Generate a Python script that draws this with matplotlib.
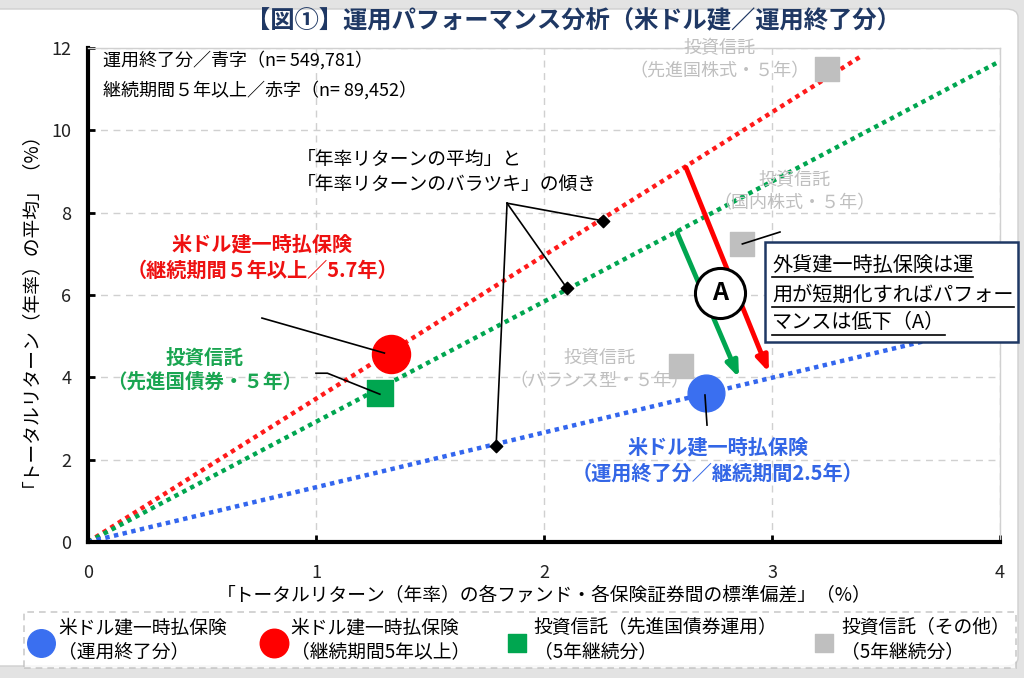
import numpy as np
import matplotlib
matplotlib.use('Agg')
import matplotlib.pyplot as plt
from matplotlib.patches import FancyBboxPatch, Rectangle
from matplotlib.lines import Line2D

plt.rcParams['font.family'] = ['Noto Sans CJK JP', 'DejaVu Sans']

# データ
x_blue, y_blue = 2.71, 3.62      # 米ドル建一時払保険（運用終了分）
x_red, y_red = 1.33, 4.56        # 米ドル建一時払保険（継続期間5年以上）
x_green, y_green = 1.28, 3.62    # 投資信託（先進国債券）
gray_x = [3.24, 2.87, 2.60]      # 投資信託（その他）
gray_y = [11.48, 7.23, 4.27]
gray_names = ['投資信託\n（先進国株式・５年）', '投資信託\n（国内株式・５年）', '投資信託\n（バランス型・５年）']

slopes = [3.48, 2.92, 1.33]       # 赤, 緑, 青
slope_xmax = [3.40, 4.0, 4.0]
line_colors = ['#ff1a1a', '#00a650', '#3366ee']
diamond_x = [2.26, 2.10, 1.79]
diamond_y = [7.80, 6.17, 2.33]

c_red = '#ff0000'
c_blue = '#3a6ff0'
c_green = '#00a650'
c_gray = '#bfbfbf'
navy = '#1f3864'

fig = plt.figure(figsize=(10.24, 6.78), dpi=100, facecolor='#e3e3e3')
W, H = 1024, 678
def fx(px): return px / W
def fy(py): return 1 - py / H

# 白い背景枠
fig.patches.append(FancyBboxPatch((fx(-20), fy(666)), fx(1038), (666 - 9) / H,
                                  boxstyle='round,pad=0,rounding_size=0.012',
                                  transform=fig.transFigure, facecolor='white',
                                  edgecolor='#cfcfcf', lw=1, zorder=-10))

ax = fig.add_axes([fx(88), fy(542), fx(1000 - 88), (542 - 48) / H])
ax.set_xlim(0, 4)
ax.set_ylim(0, 12)
ax.set_xticks([0, 1, 2, 3, 4])
ax.set_yticks([0, 2, 4, 6, 8, 10, 12])
ax.grid(True, ls=(0, (5, 4)), color='#d0d0d0', lw=1)
ax.set_axisbelow(True)
for s in ['left', 'bottom']:
    ax.spines[s].set_linewidth(3)
    ax.spines[s].set_color('black')
for s in ['top', 'right']:
    ax.spines[s].set_linewidth(1)
    ax.spines[s].set_color('#d0d0d0')
ax.tick_params(direction='in', length=5, width=2, labelsize=13, colors='black', pad=12)
ax.tick_params(axis='x', pad=16)
for lab in ax.get_xticklabels() + ax.get_yticklabels():
    lab.set_color('#222222')

# 傾き線
for k, xm, c in zip(slopes, slope_xmax, line_colors):
    xs = np.array([0, xm])
    ax.plot(xs, k * xs, ls=(0, (1, 1)), lw=3.2, color=c, zorder=2)

# 傾き説明
ax.text(0.917, 8.99, '「年率リターンの平均」と\n「年率リターンのバラツキ」の傾き', fontsize=13.5,
        ha='left', va='center', linespacing=1.3, zorder=5)
for dx, dy in zip(diamond_x, diamond_y):
    ax.plot([1.838, dx], [8.23, dy], color='black', lw=1.2, zorder=3)
ax.scatter(diamond_x, diamond_y, marker='D', s=40, color='black', zorder=4)

# 矢印
ax.annotate('', xy=(2.991, 4.06), xytext=(2.618, 9.16),
            arrowprops=dict(arrowstyle='-|>,head_length=0.9,head_width=0.35', color=c_red, lw=3.5), zorder=4)
ax.annotate('', xy=(2.86, 3.93), xytext=(2.579, 7.58),
            arrowprops=dict(arrowstyle='-|>,head_length=0.9,head_width=0.35', color=c_green, lw=3.5), zorder=4)
ax.scatter([2.772], [6.05], s=1300, facecolor='white', edgecolor='black', lw=2.2, zorder=6)
ax.text(2.772, 6.05, 'A', fontsize=18, fontweight='bold', ha='center', va='center', zorder=7)

# その他の投資信託
ax.scatter(gray_x, gray_y, marker='s', s=300, color=c_gray, zorder=5, label='投資信託（その他）\n（5年継続分）')
gray_pos = [(2.77, 11.71), (3.10, 8.50), (2.245, 4.18)]
for (tx, ty), name in zip(gray_pos, gray_names):
    ax.text(tx, ty, name, color=c_gray, fontsize=13, ha='center', va='center', linespacing=1.35, zorder=5)
ax.plot([2.87, 3.035], [7.24, 7.53], color='black', lw=1.2, zorder=6)

# 主要ポイント
ax.scatter([x_blue], [y_blue], s=700, color=c_blue, zorder=6, label='米ドル建一時払保険\n（運用終了分）')
ax.scatter([x_red], [y_red], s=750, color=c_red, zorder=6, label='米ドル建一時払保険\n（継続期間5年以上）')
ax.scatter([x_green], [y_green], marker='s', s=330, color=c_green, zorder=6, label='投資信託（先進国債券運用）\n（5年継続分）')

ax.plot([0.763, 1.30], [5.44, 4.59], color='black', lw=1.2, zorder=7)
ax.plot([1.0, 1.05, 1.28], [4.10, 4.10, 3.59], color='black', lw=1.2, zorder=7)
ax.plot([2.706, 2.715], [3.57, 2.84], color='black', lw=1.2, zorder=7)

ax.text(0.763, 6.92, '米ドル建一時払保険\n（継続期間５年以上／5.7年）', color='#ee1111', fontsize=14.5,
        fontweight='bold', ha='center', va='center', linespacing=1.3, zorder=5)
ax.text(0.513, 4.18, '投資信託\n（先進国債券・５年）', color='#1aa551', fontsize=14,
        fontweight='bold', ha='center', va='center', linespacing=1.3, zorder=5)
ax.text(2.763, 1.99, '米ドル建一時払保険\n（運用終了分／継続期間2.5年）', color='#3366e6', fontsize=14.5,
        fontweight='bold', ha='center', va='center', linespacing=1.3, zorder=5)

ax.text(0.066, 11.71, '運用終了分／青字（n= 549,781）', fontsize=13, ha='left', va='center')
ax.text(0.066, 10.98, '継続期間５年以上／赤字（n= 89,452）', fontsize=13, ha='left', va='center')

# 軸ラベル
ax.set_xlabel('「トータルリターン（年率）の各ファンド・各保険証券間の標準偏差」（%）', fontsize=13.5, labelpad=2)
fig.text(fx(20), fy(300), '「トータルリターン（年率）の平均」（%）', fontsize=13.5, rotation=90,
         ha='center', va='center')

# タイトル
fig.text(fx(573), fy(21), '【図①】運用パフォーマンス分析（米ドル建／運用終了分）', fontsize=17.5,
         fontweight='bold', color=navy, ha='center', va='center')

# 説明ボックス（下線付き）
fig.patches.append(Rectangle((fx(765), fy(342)), fx(1018 - 765), (342 - 242) / H,
                             transform=fig.transFigure, facecolor='white', edgecolor=navy, lw=1.8, zorder=20))
box_lines = ['外貨建一時払保険は運', '用が短期化すればパフォー', 'マンスは低下（A）']
box_y = [265, 295, 323]
renderer = fig.canvas.get_renderer()
for t, py in zip(box_lines, box_y):
    txt = fig.text(fx(772), fy(py), t, fontsize=14.5, ha='left', va='center', zorder=21)
    bb = txt.get_window_extent(renderer=renderer)
    xe = bb.x1 / W
    fig.lines.append(Line2D([fx(772), xe], [fy(py + 12), fy(py + 12)], transform=fig.transFigure,
                            color='black', lw=1.2, zorder=21))

# 凡例
h, l = ax.get_legend_handles_labels()
order = [1, 2, 3, 0]
leg = fig.legend([h[i] for i in order], [l[i] for i in order], ncol=4, loc='center',
                 bbox_to_anchor=(fx(520), fy(640)), fontsize=13.5, frameon=True,
                 markerscale=0.75, handletextpad=0.3, columnspacing=1.9, handlelength=1.2,
                 borderpad=0.3, fancybox=False, labelspacing=0.2)
leg.get_frame().set_linestyle((0, (4, 3)))
leg.get_frame().set_edgecolor('#bfbfbf')
leg.get_frame().set_linewidth(1.2)

fig.savefig('out.png', dpi=100, facecolor=fig.get_facecolor())
